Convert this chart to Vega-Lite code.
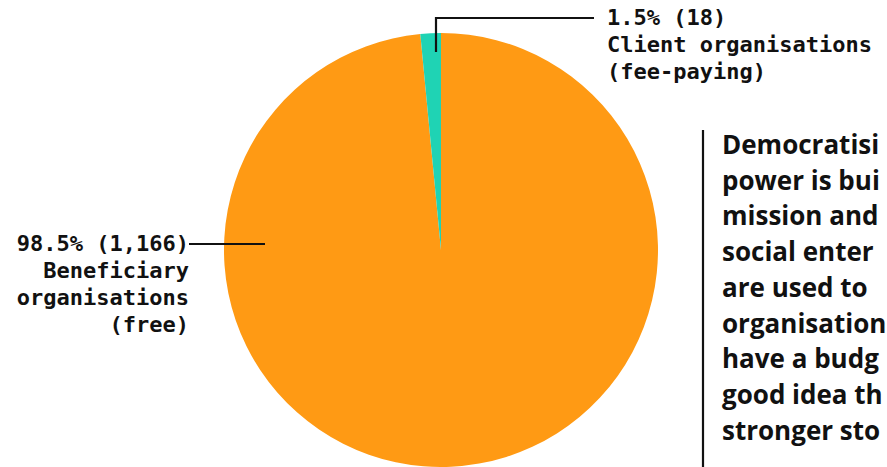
{
  "$schema": "https://vega.github.io/schema/vega-lite/v6.json",
  "autosize": "none",
  "width": 882,
  "height": 434,
  "padding": {"top": 33, "left": 0, "right": 5, "bottom": 0},
  "background": "#ffffff",
  "config": {"view": {"stroke": null}},
  "datasets": {
    "groups": [
      {"group": "Beneficiary organisations (free)", "count": 1166, "pct": "98.5%"},
      {"group": "Client organisations (fee-paying)", "count": 18, "pct": "1.5%"}
    ]
  },
  "layer": [
    {
      "data": {"name": "groups"},
      "mark": {"type": "arc", "outerRadius": 217, "stroke": null},
      "encoding": {
        "theta": {"field": "count", "type": "quantitative", "stack": true},
        "order": {"field": "count", "type": "quantitative", "sort": "descending"},
        "color": {
          "field": "group",
          "type": "nominal",
          "legend": null,
          "scale": {
            "domain": ["Beneficiary organisations (free)", "Client organisations (fee-paying)"],
            "range": ["#FF9A14", "#1FD3B4"]
          }
        }
      }
    },
    {
      "data": {"values": [{}]},
      "mark": {"type": "rule", "stroke": "#111111", "strokeWidth": 2.2},
      "encoding": {"x": {"value": 436}, "x2": {"value": 436}, "y": {"value": 19}, "y2": {"value": -16}}
    },
    {
      "data": {"values": [{}]},
      "mark": {"type": "rule", "stroke": "#111111", "strokeWidth": 2.2},
      "encoding": {"x": {"value": 435}, "x2": {"value": 594}, "y": {"value": -15}, "y2": {"value": -15}}
    },
    {
      "data": {"values": [{}]},
      "mark": {"type": "rule", "stroke": "#111111", "strokeWidth": 2.2},
      "encoding": {"x": {"value": 189}, "x2": {"value": 265}, "y": {"value": 211}, "y2": {"value": 211}}
    },
    {
      "data": {"values": [{}]},
      "mark": {"type": "rule", "stroke": "#111111", "strokeWidth": 2.2},
      "encoding": {"x": {"value": 703}, "x2": {"value": 703}, "y": {"value": 97}, "y2": {"value": 440}}
    },
    {
      "data": {"values": [{"t": ["1.5% (18)", "Client organisations", "(fee-paying)"]}]},
      "mark": {"type": "text", "x": 607, "y": -15, "align": "left", "baseline": "middle", "lineHeight": 27, "font": "DejaVu Sans Mono", "fontSize": 22, "fontWeight": "bold", "color": "#111111"},
      "encoding": {"text": {"field": "t"}}
    },
    {
      "data": {"values": [{"t": ["98.5% (1,166)", "Beneficiary", "organisations", "(free)"]}]},
      "mark": {"type": "text", "x": 189, "y": 211, "align": "right", "baseline": "middle", "lineHeight": 27, "font": "DejaVu Sans Mono", "fontSize": 22, "fontWeight": "bold", "color": "#111111"},
      "encoding": {"text": {"field": "t"}}
    },
    {
      "data": {"values": [{"t": ["Democratisi", "power is bui", "mission and", "social enter", "are used to", "organisation", "have a budg", "good idea th", "stronger sto"]}]},
      "mark": {"type": "text", "x": 722, "y": 121, "align": "left", "baseline": "alphabetic", "lineHeight": 35.7, "font": "Open Sans", "fontSize": 26, "fontWeight": "bold", "color": "#111111"},
      "encoding": {"text": {"field": "t"}}
    }
  ]
}
